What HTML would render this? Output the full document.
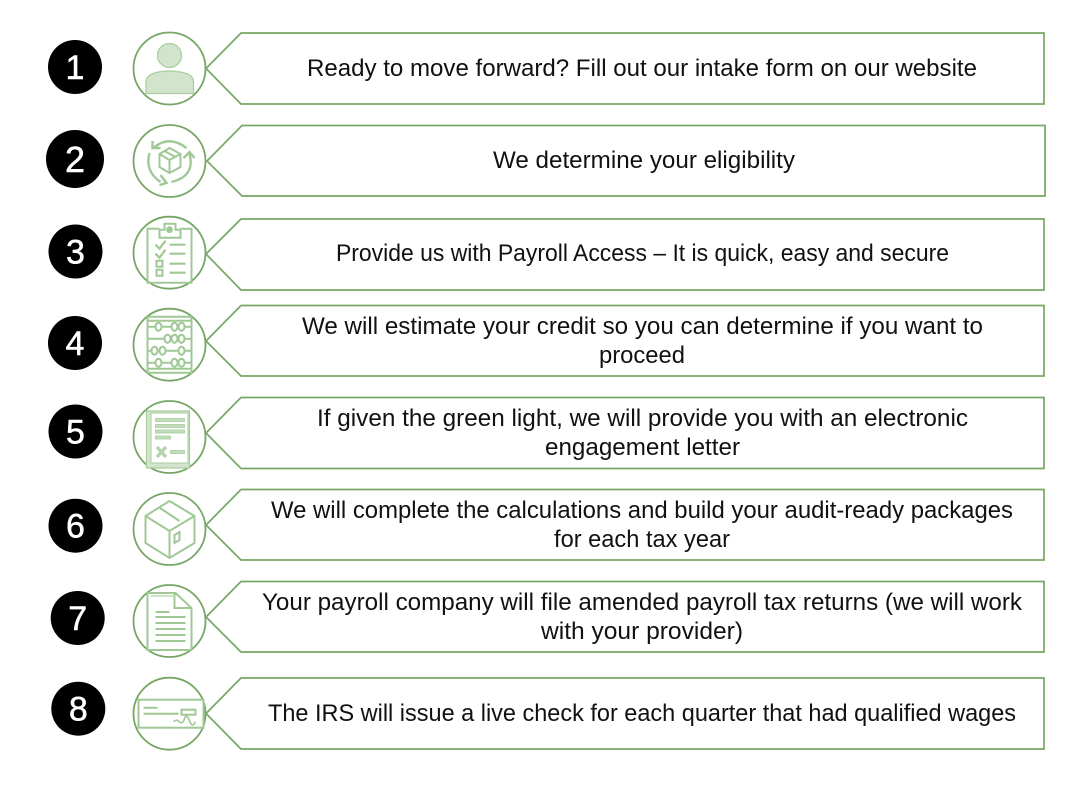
<!DOCTYPE html>
<html lang="en">
<head>
<meta charset="utf-8">
<title>Process steps</title>
<style>
html,body{margin:0;padding:0;background:#fff;width:1082px;height:786px;overflow:hidden}
svg{display:block}
.box{fill:#fff;stroke:#76a766;stroke-width:1.7}
.ring{fill:#fff;stroke:#76a766;stroke-width:1.8}
.ic{fill:none;stroke:#9fc895;stroke-width:2}
.num{font-family:"Liberation Sans",sans-serif;font-size:34px;fill:#fff;stroke:#fff;stroke-width:.5;text-anchor:middle}
.t{font-family:"Liberation Sans",sans-serif;font-size:24px;fill:#111}
</style>
</head>
<body>
<svg width="1082" height="786" viewBox="0 0 1082 786" xmlns="http://www.w3.org/2000/svg">
<!-- callouts -->
<polygon class="box" points="206,68.5 241,33 1044,33 1044,104 241,104"/>
<polygon class="box" points="207,161 242,125.5 1045,125.5 1045,196 242,196"/>
<polygon class="box" points="206,254 241,219 1044,219 1044,290 241,290"/>
<polygon class="box" points="206,341 241,305.5 1044,305.5 1044,376 241,376"/>
<polygon class="box" points="206,433 241,397.5 1044,397.5 1044,468.5 241,468.5"/>
<polygon class="box" points="206,525 241,489.5 1044,489.5 1044,560 241,560"/>
<polygon class="box" points="206,617 241,581.5 1044,581.5 1044,652 241,652"/>
<polygon class="box" points="206,713.5 241,678 1044,678 1044,749 241,749"/>

<!-- number discs -->
<circle cx="75" cy="67" r="27"/><text class="num" x="75" y="79">1</text>
<circle cx="75" cy="159" r="29"/><text class="num" x="75" y="172" style="font-size:36px">2</text>
<circle cx="75.5" cy="251.5" r="27"/><text class="num" x="75.5" y="263.5">3</text>
<circle cx="75" cy="343" r="27"/><text class="num" x="75" y="355">4</text>
<circle cx="75.5" cy="431.5" r="27"/><text class="num" x="75.5" y="443.5">5</text>
<circle cx="75.5" cy="525.7" r="27"/><text class="num" x="75.5" y="537.7">6</text>
<circle cx="77.7" cy="618" r="27"/><text class="num" x="77.7" y="630">7</text>
<circle cx="78.3" cy="708.7" r="27"/><text class="num" x="78.3" y="720.7">8</text>

<!-- icon 1: person -->
<g transform="translate(169.5 68.5)">
<circle class="ring" r="36"/>
<circle r="12" cy="-13" fill="#d3e4cd" stroke="#a8cc9e" stroke-width="1.2"/>
<path d="M-23.5 25V13Q-23.5 6-11 3.5Q0 1.5 11 3.5Q24 6 24 13V25Z" fill="#d3e4cd" stroke="#a8cc9e" stroke-width="1.2"/>
</g>

<!-- icon 2: box in arrows -->
<g transform="translate(169.5 161)">
<circle class="ring" r="36"/>
<g class="ic">
<path d="M0-13L11-7V6L0 12L-10 6V-7Z"/>
<path d="M-10-7L0-1L11-7M0-1V12M-5-10L6-4"/>
<path d="M-15-14Q0-26 17-13M-17-20V-13H-9" stroke-width="2.4"/>
<path d="M2 21Q26 15 20-7M14-3L20-9L25-3" stroke-width="2.4"/>
<path d="M-20-8Q-25 10-9 21M-9 14L-3 22L-10 24" stroke-width="2.4"/>
</g>
</g>

<!-- icon 3: clipboard -->
<g transform="translate(169.5 252.7)">
<circle class="ring" r="36"/>
<g class="ic">
<path d="M-10-24H-22V30H22V-24H11"/>
<path d="M-10-15V-23H-5V-29H6V-23H11V-15Z"/>
<circle cy="-23" r="2.4" fill="#9fc895"/>
<path d="M-14-8L-10-4L-4-12M-14 1L-10 5L-4-3" stroke-width="2.2"/>
<path d="M0-8H16M0 1H16M0 11H16M0 20H16" stroke-width="2.2"/>
<rect x="-13" y="8" width="6" height="6"/><rect x="-13" y="17" width="6" height="6"/>
</g>
</g>

<!-- icon 4: abacus -->
<g transform="translate(169.5 344.7)">
<circle class="ring" r="36"/>
<g class="ic">
<path d="M-23-28H23M-23-24H23M-22-28V28M22-28V28M-23 28H23M-23 24H23"/>
<path d="M-22-18H23M-22-6H23M-22 6H23M-22 18H23"/>
<g fill="#fff">
<ellipse cx="-11" cy="-18" rx="3" ry="4"/><ellipse cx="5" cy="-18" rx="3" ry="4"/><ellipse cx="12" cy="-18" rx="3" ry="4"/>
<ellipse cx="-2" cy="-6" rx="3" ry="4"/><ellipse cx="5" cy="-6" rx="3" ry="4"/><ellipse cx="12" cy="-6" rx="3" ry="4"/>
<ellipse cx="-15" cy="6" rx="3" ry="4"/><ellipse cx="-7" cy="6" rx="3" ry="4"/><ellipse cx="12" cy="6" rx="3" ry="4"/>
<ellipse cx="-11" cy="18" rx="3" ry="4"/><ellipse cx="5" cy="18" rx="3" ry="4"/><ellipse cx="12" cy="18" rx="3" ry="4"/>
</g>
</g>
</g>

<!-- icon 5: document with x -->
<g transform="translate(169.5 437)">
<circle class="ring" r="36"/>
<path d="M-23-26H20V31H-23Z" fill="#d3e4cd" stroke="#a8cc9e" stroke-width="1.2"/>
<rect x="-18.5" y="-24" width="37" height="50" fill="#fff" stroke="#a8cc9e" stroke-width="1"/>
<g fill="#c3dcba" stroke="#a8cc9e" stroke-width=".8">
<rect x="-14" y="-18.5" width="29" height="3"/>
<rect x="-14" y="-12.5" width="29" height="3"/>
<rect x="-14" y="-7" width="29" height="3"/>
<rect x="-14" y="-1" width="15" height="3"/>
<rect x="1" y="13.5" width="14" height="3"/>
</g>
<path d="M-12.500 10L-3.500 20M-3.500 10L-12.500 20" stroke="#b5d4ab" stroke-width="3.500" fill="none"/>
</g>

<!-- icon 6: parcel -->
<g transform="translate(169.5 529)">
<circle class="ring" r="36"/>
<g class="ic" stroke-width="2.400">
<path d="M0-28L25-13V14L0 29L-24 14V-13Z"/>
<path d="M-24-13L0 2L25-13M0 2V29"/>
<path d="M-11-22L10-8"/>
<path d="M5 6L10 3V11L5 14Z"/>
</g>
</g>

<!-- icon 7: page -->
<g transform="translate(169.5 621)">
<circle class="ring" r="36"/>
<g class="ic" stroke-width="2.200">
<path d="M-22-28H6L22-13V29H-22Z"/>
<path d="M-19-25H5" stroke-width="1"/>
<path d="M5-28V-13H22"/>
<path d="M-14-9H0M-14-4H16M-14 2H16M-14 8H16M-14 14H16M-14 20H16"/>
</g>
</g>

<!-- icon 8: check -->
<g transform="translate(169.5 713.7)">
<circle class="ring" r="36"/>
<g class="ic" stroke-width="2.200">
<rect x="-31" y="-14" width="65" height="28"/>
<path d="M-26-6H-12M-26 0H9"/>
<rect x="12" y="-4" width="14" height="5"/>
<path d="M4 8Q7 5 10 8T15 5T20 7T26 8" stroke-width="1.6"/>
</g>
</g>

<!-- text -->
<text class="t" x="307" y="76" textLength="670" lengthAdjust="spacingAndGlyphs">Ready to move forward? Fill out our intake form on our website</text>
<text class="t" x="493" y="168" textLength="302" lengthAdjust="spacingAndGlyphs">We determine your eligibility</text>
<text class="t" x="336" y="261" textLength="613" lengthAdjust="spacingAndGlyphs">Provide us with Payroll Access – It is quick, easy and secure</text>
<text class="t" x="302" y="334" textLength="681" lengthAdjust="spacingAndGlyphs">We will estimate your credit so you can determine if you want to</text>
<text class="t" x="599" y="363" textLength="86" lengthAdjust="spacingAndGlyphs">proceed</text>
<text class="t" x="317" y="426" textLength="651" lengthAdjust="spacingAndGlyphs">If given the green light, we will provide you with an electronic</text>
<text class="t" x="545" y="455" textLength="195" lengthAdjust="spacingAndGlyphs">engagement letter</text>
<text class="t" x="271" y="518" textLength="742" lengthAdjust="spacingAndGlyphs">We will complete the calculations and build your audit-ready packages</text>
<text class="t" x="554" y="547" textLength="176" lengthAdjust="spacingAndGlyphs">for each tax year</text>
<text class="t" x="262" y="610" textLength="760" lengthAdjust="spacingAndGlyphs">Your payroll company will file amended payroll tax returns (we will work</text>
<text class="t" x="541" y="639" textLength="202" lengthAdjust="spacingAndGlyphs">with your provider)</text>
<text class="t" x="268" y="721" textLength="748" lengthAdjust="spacingAndGlyphs">The IRS will issue a live check for each quarter that had qualified wages</text>
</svg>
</body>
</html>
